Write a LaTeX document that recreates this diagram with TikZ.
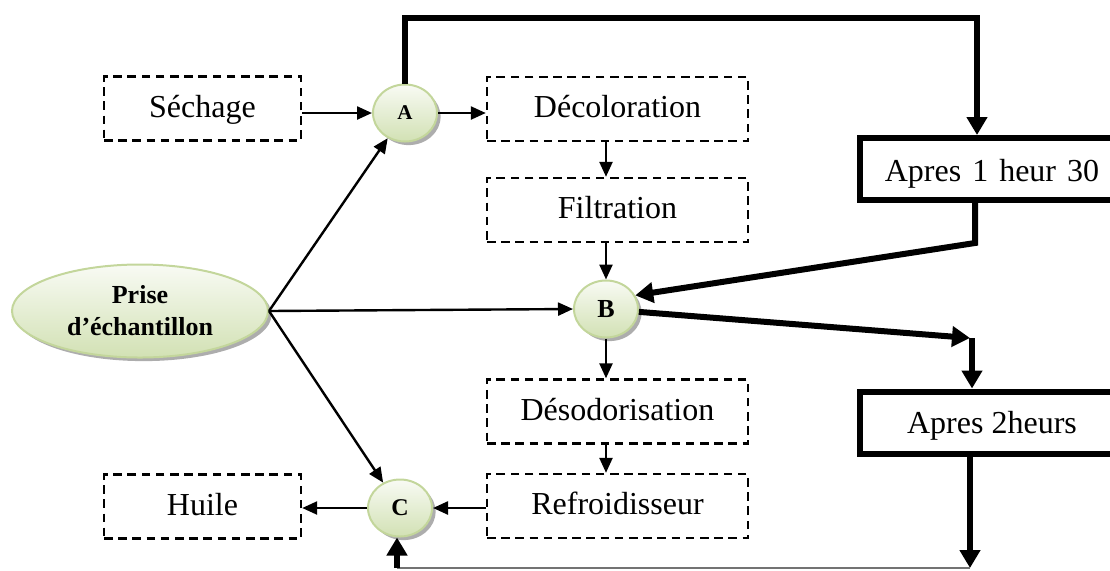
\documentclass[tikz,border=0pt]{standalone}
\usepackage{fontspec}
\setmainfont{Liberation Serif}
\usetikzlibrary{arrows.meta,shadows,shapes.geometric}
\definecolor{gborder}{HTML}{C3D69B}
\definecolor{gfill}{HTML}{D2E1B4}
\begin{document}
\begin{tikzpicture}[x=0.5pt,y=-0.5pt,
  boxtext/.style={font=\fontsize{16}{18}\selectfont, text height=12pt, text depth=3.5pt},
  dbox/.style={boxtext, draw, dashed, dash pattern=on 4.3pt off 2.8pt, line width=1.2pt,
     minimum height=32pt, inner sep=0pt},
  smallbox/.style={dbox, minimum width=98.5pt},
  widebox/.style={dbox, minimum width=130.5pt},
  thickbox/.style={boxtext, draw, line width=3pt, minimum width=132pt, minimum height=31pt, inner sep=0pt},
  bubble/.style={ellipse, draw=gborder, line width=1pt, top color=gfill!15, bottom color=gfill,
     inner sep=0pt, font=\bfseries,
     drop shadow={shadow xshift=1.8pt, shadow yshift=-1.8pt, fill=black!40, opacity=0.8}},
  circ/.style={bubble, minimum width=32pt, minimum height=28.5pt},
  thin/.style={line width=1.2pt, -{Triangle[length=7.5pt,width=6.5pt]}},
  thick/.style={line width=3pt, -{Triangle[length=9pt,width=10pt]}},
  ]
\clip (0,0) rectangle (1110,570);
% nodes
\node[bubble, minimum width=128pt, minimum height=46.5pt, align=center,
      font=\bfseries\fontsize{13}{16}\selectfont] (P) at (140,311) {Prise\\d’échantillon};
\node[smallbox] (S) at (202.5,108.5) {Séchage};
\node[smallbox] (H) at (202.5,506.5) {Huile};
\node[circ, font=\bfseries\fontsize{10.5}{12}\selectfont] (A) at (405,113) {A};
\node[circ, font=\bfseries\fontsize{13}{14}\selectfont] (B) at (606,309) {B};
\node[circ, font=\bfseries\fontsize{12}{14}\selectfont] (C) at (400,508) {C};
\node[widebox] (D1) at (617.5,109) {Décoloration};
\node[widebox] (F) at (617.5,210) {Filtration};
\node[widebox] (D2) at (617.5,411.5) {Désodorisation};
\node[widebox] (R) at (617.5,506) {Refroidisseur};
\node[thickbox] (T1) at (992,169) {\raisebox{-2pt}{Apres\hspace{1.5pt} 1\hspace{1.5pt} heur\hspace{1.5pt} 30}};
\node[thickbox] (T2) at (992,422.5) {\raisebox{-1pt}{Apres 2heurs}};
\coordinate (k1) at (977,18);
\coordinate (k2) at (975,243);
\coordinate (k3) at (970,338);
\coordinate (k4) at (972,338);
\coordinate (k5) at (970,568);
\coordinate (k6) at (397,568);
% thin connectors
\draw[thin] (S.east |- A) -- (A.west);
\draw[thin] (A.east) -- (D1.west |- A);
\draw[thin] (B |- D1.south) -- (B |- F.north);
\draw[thin] (B |- F.south) -- (B.north);
\draw[thin] (B.south) -- (B |- D2.north);
\draw[thin] (B |- D2.south) -- (B |- R.north);
\draw[thin] (R.west |- C) -- (C.east);
\draw[thin] (C.west) -- (H.east |- C);
\draw[thin] (P.east) -- (A);
\draw[thin] (P.east) -- (B.west);
\draw[thin] (P.east) -- (C);
% thick connectors
\draw[thick] (A.north) |- (k1) -- (k1 |- T1.north);
\draw[thick] (k2 |- T1.south) -- (k2) -- (B.25);
\draw[thick] (B.-5) -- (k3);
\draw[thick] (k4) -- (k4 |- T2.north);
\draw[thick] (k5 |- T2.south) -- (k5);
\draw[line width=1pt, black!55] (k5) -- (k6);
\draw[thick] (k6) -- (k6 |- C.south);
\end{tikzpicture}
\end{document}
